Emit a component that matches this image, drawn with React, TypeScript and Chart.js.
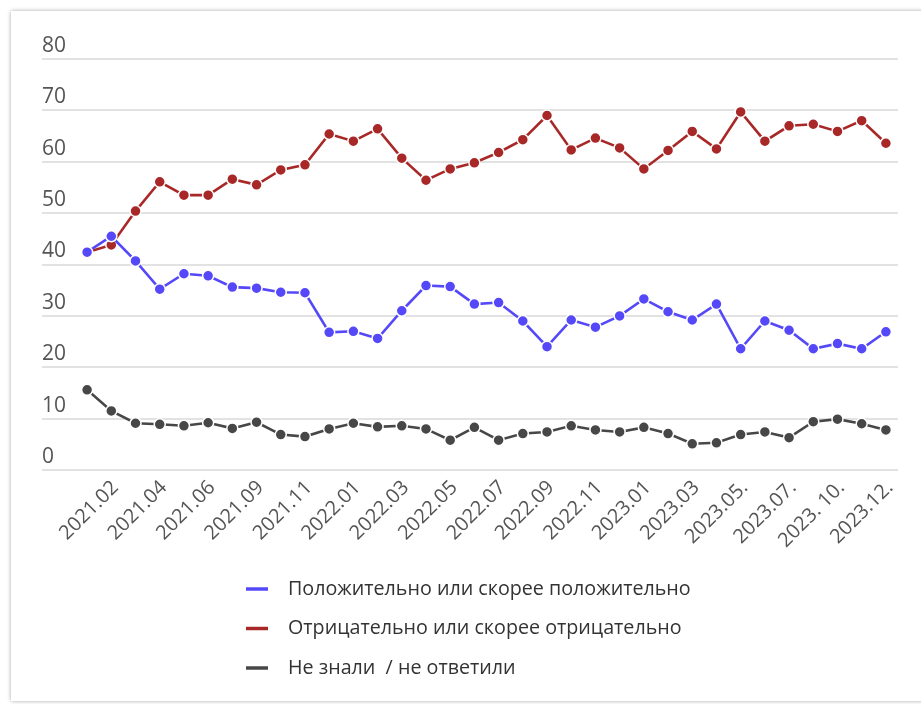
import React, { useEffect, useRef } from 'react';
import { Chart, registerables } from 'chart.js';

Chart.register(...registerables);

const tickLabels = [
  '2021.02', '2021.04', '2021.06', '2021.09', '2021.11', '2022.01', '2022.03', '2022.05', '2022.07',
  '2022.09', '2022.11', '2023.01', '2023.03', '2023.05.', '2023.07.', '2023. 10.', '2023.12.',
];

const positive = [
  42.4, 45.5, 40.7, 35.2, 38.2, 37.8, 35.6, 35.4, 34.6, 34.5, 26.8, 27.0, 25.6, 31.0, 35.9, 35.7, 32.3,
  32.6, 29.0, 24.0, 29.2, 27.8, 30.0, 33.3, 30.8, 29.2, 32.3, 23.6, 29.0, 27.2, 23.6, 24.6, 23.6, 26.9,
];

const negative = [
  42.4, 43.8, 50.4, 56.1, 53.5, 53.5, 56.6, 55.5, 58.4, 59.4, 65.4, 64.0, 66.4, 60.7, 56.4, 58.6, 59.8,
  61.8, 64.3, 69.0, 62.3, 64.6, 62.7, 58.6, 62.2, 65.9, 62.5, 69.7, 64.0, 67.0, 67.3, 65.9, 68.0, 63.6,
];

const noAnswer = [
  15.6, 11.5, 9.1, 8.9, 8.6, 9.2, 8.1, 9.3, 6.9, 6.5, 8.0, 9.1, 8.4, 8.6, 8.0, 5.8, 8.3,
  5.8, 7.1, 7.4, 8.6, 7.8, 7.4, 8.3, 7.1, 5.1, 5.3, 6.9, 7.4, 6.3, 9.4, 9.9, 9.0, 7.8,
];

const seriesNames = [
  'Положительно или скорее положительно',
  'Отрицательно или скорее отрицательно',
  'Не знали  / не ответили',
];

const seriesColors = ['#5548f8', '#a82828', '#474747'];

const categories = tickLabels.flatMap((t) => ['', t]);

const FONT = '"Open Sans", "Noto Sans", sans-serif';

const legendPlugin = {
  id: 'stackedLegend',
  afterDraw(chart: any) {
    const ctx = chart.ctx;
    ctx.save();
    chart.data.datasets.forEach((ds: any, i: number) => {
      const y = 589 + i * 39.5;
      ctx.strokeStyle = ds.borderColor;
      ctx.lineWidth = 3.5;
      ctx.beginPath();
      ctx.moveTo(246, y);
      ctx.lineTo(268, y);
      ctx.stroke();
      ctx.fillStyle = '#333333';
      ctx.font = `19.7px ${FONT}`;
      ctx.textBaseline = 'middle';
      ctx.textAlign = 'left';
      ctx.fillText(ds.label, 288, y);
    });
    ctx.restore();
  },
};

export default function App() {
  const ref = useRef<HTMLCanvasElement | null>(null);

  useEffect(() => {
    if (!ref.current) return;
    const datasets = [positive, negative, noAnswer].map((data, i) => ({
      label: seriesNames[i],
      data,
      borderColor: seriesColors[i],
      backgroundColor: seriesColors[i],
      pointBackgroundColor: seriesColors[i],
      pointBorderColor: '#ffffff',
      pointBorderWidth: 1.5,
      pointRadius: 5.5,
      borderWidth: 2.6,
      tension: 0,
    }));
    const chart = new Chart(ref.current, {
      type: 'line',
      data: { labels: categories, datasets },
      plugins: [legendPlugin],
      options: {
        responsive: false,
        animation: false,
        layout: { padding: { left: 42, right: 23, top: 59, bottom: 144 } },
        plugins: {
          legend: { display: false },
          tooltip: { enabled: false },
        },
        scales: {
          x: {
            offset: true,
            grid: { display: false, drawTicks: false },
            border: { display: false },
            ticks: {
              autoSkip: false,
              maxRotation: 45,
              minRotation: 45,
              padding: 6,
              labelOffset: 4,
              color: '#555555',
              font: { family: FONT, size: 20 },
            },
            afterFit: (scale: any) => {
              scale.height = 90;
            },
          },
          y: {
            min: 0,
            max: 80,
            grid: { color: '#e2e2e2', lineWidth: 2, tickLength: 33, drawTicks: true },
            border: { display: false },
            ticks: {
              stepSize: 10,
              crossAlign: 'far',
              padding: 0,
              labelOffset: -13,
              color: '#555555',
              font: { family: FONT, size: 21 },
            },
            afterFit: (scale: any) => {
              scale.width = 33;
            },
          },
        },
      },
    });
    return () => chart.destroy();
  }, []);

  return (
    <div style={{ position: 'fixed', left: 0, top: 0, width: 921, height: 704, overflow: 'hidden', background: '#ffffff' }}>
      <div
        style={{
          position: 'absolute',
          left: 11,
          top: 11,
          width: 940,
          height: 690,
          background: '#ffffff',
          boxShadow: '0 0 4px rgba(0,0,0,0.35)',
        }}
      />
      <canvas ref={ref} width={921} height={704} style={{ position: 'absolute', left: 0, top: 0 }} />
    </div>
  );
}
